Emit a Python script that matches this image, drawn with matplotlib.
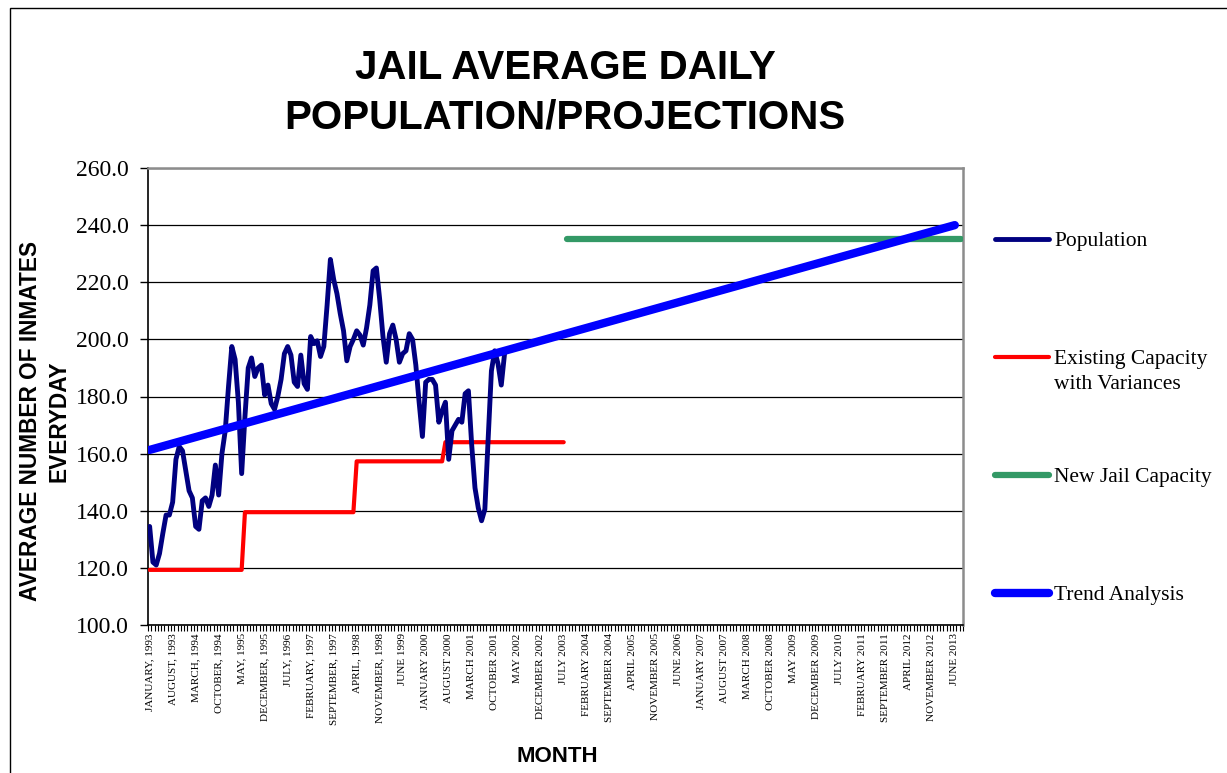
import numpy as np
import matplotlib
matplotlib.use("Agg")
import matplotlib.pyplot as plt
from matplotlib.lines import Line2D
from matplotlib.patches import Rectangle

# ---------------- data ----------------
n_months = 248  # January 1993 .. August 2013 (category axis)

tick_labels = [
    "JANUARY, 1993", "AUGUST, 1993", "MARCH, 1994", "OCTOBER, 1994", "MAY, 1995",
    "DECEMBER, 1995", "JULY, 1996", "FEBRUARY, 1997", "SEPTEMBER, 1997", "APRIL, 1998",
    "NOVEMBER, 1998", "JUNE 1999", "JANUARY 2000", "AUGUST 2000", "MARCH 2001",
    "OCTOBER 2001", "MAY 2002", "DECEMBER 2002", "JULY 2003", "FEBRUARY 2004",
    "SEPTEMBER 2004", "APRIL 2005", "NOVEMBER 2005", "JUNE 2006", "JANUARY 2007",
    "AUGUST 2007", "MARCH 2008", "OCTOBER 2008", "MAY 2009", "DECEMBER 2009",
    "JULY 2010", "FEBRUARY 2011", "SEPTEMBER 2011", "APRIL 2012", "NOVEMBER 2012",
    "JUNE 2013",
]
tick_step = 7

population = [
    134.5, 122, 121, 125, 132, 138.5, 138.5, 143, 158, 162.5,
    161, 154, 147, 144.5, 134.5, 133.5, 143.5, 144.5, 141.5, 145.5,
    156, 145.5, 160, 168, 183.5, 197.5, 193, 178, 153, 173,
    190, 193.5, 187, 190, 191, 180.5, 184, 177.5, 175.5, 180,
    186, 195, 197.5, 194.5, 185, 183.5, 194.5, 184.5, 182.5, 201,
    198.5, 199.5, 194, 197.5, 212, 228, 221, 216, 209, 203,
    192.5, 197.5, 200, 203, 201.5, 198, 204, 212, 224, 225,
    214, 201, 192, 202, 205, 200, 192, 195, 196, 202,
    200, 191, 178, 166, 185, 186, 186, 184, 171, 175,
    178, 158, 168, 170, 172, 171, 181, 182, 163, 148,
    141, 136.5, 140.5, 165, 189, 196, 191.5, 184, 195,
]

capacity_levels = [119.3, 139.5, 157.3, 164.0]
capacity_change_months = [29, 63, 90]   # first month at each new level
capacity_last_month = 126

new_jail_capacity = 235.0
new_jail_first_month = 127

trend_months = [0, 245]
trend_values = [161.3, 240.0]

# ---------------- build series ----------------
pop_x = np.arange(len(population))
cap_x = np.arange(capacity_last_month + 1)
cap_y = np.full(cap_x.shape, capacity_levels[0], dtype=float)
for lvl, start in zip(capacity_levels[1:], capacity_change_months):
    cap_y[cap_x >= start] = lvl
jail_x = np.arange(new_jail_first_month, n_months)
jail_y = np.full(jail_x.shape, new_jail_capacity)

# ---------------- figure ----------------
W, H = 1227, 773
fig = plt.figure(figsize=(W / 100, H / 100), dpi=100)
fig.patch.set_facecolor("white")

# outer chart-area border
fig.add_artist(Rectangle((10 / W, -0.05), 1.2, 1 - 8 / H + 0.05,
                         transform=fig.transFigure, fill=False,
                         edgecolor="black", linewidth=1.0))

ax = fig.add_axes([148 / W, 1 - 625 / H, 815 / W, 457 / H])

serif = "Liberation Serif"
sans = "Liberation Sans"

ax.plot(pop_x, population, color="#000080", lw=3.5, solid_joinstyle="round",
        solid_capstyle="round", zorder=4)
ax.plot(cap_x, cap_y, color="#FF0000", lw=3.0, solid_joinstyle="round",
        solid_capstyle="round", zorder=3)
ax.plot(jail_x, jail_y, color="#339966", lw=4.5, solid_capstyle="round", zorder=3)
ax.plot(trend_months, trend_values, color="#0000FF", lw=6.0,
        solid_capstyle="round", zorder=5)

ax.set_xlim(-0.5, n_months - 0.5)
ax.set_ylim(100, 260)

yt = np.arange(100, 261, 20)
ax.set_yticks(yt)
ax.set_yticklabels([f"{v:.1f}" for v in yt], fontfamily=serif, fontsize=17)
ax.tick_params(axis="y", direction="out", length=6, width=1, pad=8, color="black")
ax.yaxis.grid(True, color="black", lw=0.9)
ax.set_axisbelow(True)

major = np.arange(len(tick_labels)) * tick_step
ax.set_xticks(major)
ax.set_xticklabels(tick_labels, rotation=90, fontfamily=serif, fontsize=8, va="top")
ax.set_xticks(np.arange(-0.5, n_months, 1), minor=True)
ax.tick_params(axis="x", which="major", length=0, pad=6)
ax.tick_params(axis="x", which="minor", direction="out", length=4, width=0.8, color="black")

for s in ("left", "bottom"):
    ax.spines[s].set_color("black")
    ax.spines[s].set_linewidth(1.2)
for s in ("top", "right"):
    ax.spines[s].set_color("#8c8c8c")
    ax.spines[s].set_linewidth(1.8)

# titles
fig.text(565 / W, 1 - 93 / H, "JAIL AVERAGE DAILY\nPOPULATION/PROJECTIONS",
         ha="center", va="center", fontsize=29, fontweight="bold",
         fontfamily=sans, linespacing=1.39)
fig.text(45 / W, 1 - 421 / H, "AVERAGE NUMBER OF INMATES\nEVERYDAY",
         rotation=90, ha="center", va="center", multialignment="center",
         fontsize=16.3, fontweight="bold", fontfamily=sans, linespacing=1.3)
fig.text(557 / W, 1 - 757 / H, "MONTH", ha="center", va="center",
         fontsize=16, fontweight="bold", fontfamily=sans)

# legend (outside the plot, to the right)
legend_items = [
    ("Population", "#000080", 3.5, 239),
    ("Existing Capacity\nwith Variances", "#FF0000", 3.0, 357),
    ("New Jail Capacity", "#339966", 4.5, 475),
    ("Trend Analysis", "#0000FF", 6.0, 593),
]
for label, col, lw, ypx in legend_items:
    fig.add_artist(Line2D([995 / W, 1049 / W], [1 - ypx / H] * 2, color=col, lw=lw,
                          solid_capstyle="round", transform=fig.transFigure))
    fig.text(1054 / W, 1 - (ypx - 7) / H, label, ha="left", va="top",
             fontsize=15.5, fontfamily=serif, linespacing=1.42)

fig.savefig("out.png", dpi=100, facecolor="white")
